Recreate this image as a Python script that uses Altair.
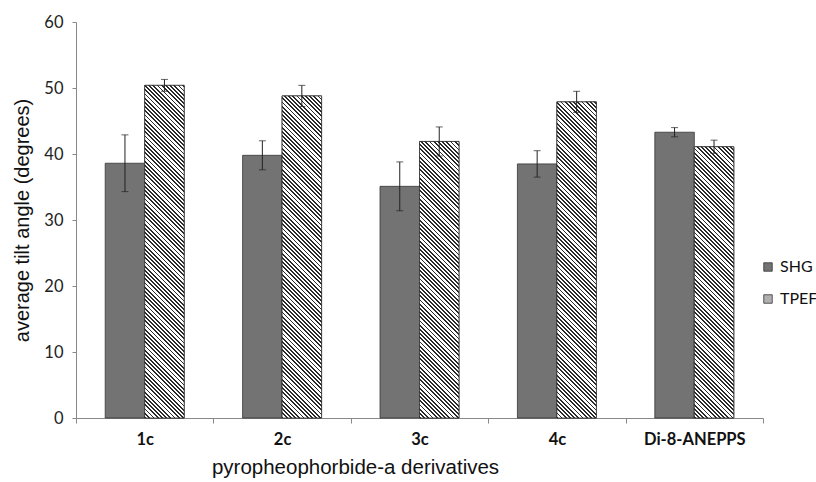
import altair as alt
import pandas as pd

categories = ["1c", "2c", "3c", "4c", "Di-8-ANEPPS"]
series = ["SHG", "TPEF"]
shg_values = [38.6, 39.8, 35.1, 38.5, 43.3]
shg_err = [4.3, 2.2, 3.7, 2.0, 0.7]
tpef_values = [50.4, 48.8, 41.9, 47.9, 41.1]
tpef_err = [0.9, 1.6, 2.2, 1.6, 1.0]
y_ticks = [0, 10, 20, 30, 40, 50, 60]

rows = []
for i, c in enumerate(categories):
    rows.append(dict(cat=c, series="SHG", value=shg_values[i], err=shg_err[i]))
    rows.append(dict(cat=c, series="TPEF", value=tpef_values[i], err=tpef_err[i]))
df = pd.DataFrame(rows)
df["lo"] = df["value"] - df["err"]
df["hi"] = df["value"] + df["err"]

W, H = 687, 396
OUTER = 0.74
STEP = W / len(categories)
BW = STEP / (2 + 2 * OUTER)
SHG_FILL = "#737373"


def hatch(w, h, period=4.2, dark=0.45, c1="#2a2a2a", c2="#ffffff"):
    S = w + h
    k = S / (w * w + h * h)
    stops = []
    n = int(S / period) + 2
    for i in range(n):
        a = min(1.0, i * period / S)
        b = min(1.0, (i * period + dark * period) / S)
        c = min(1.0, (i + 1) * period / S)
        stops += [
            {"offset": a, "color": c1},
            {"offset": b, "color": c1},
            {"offset": b, "color": c2},
            {"offset": c, "color": c2},
        ]
    return {
        "gradient": "linear",
        "x1": 0, "y1": 1,
        "x2": k * w, "y2": 1 - k * h,
        "stops": stops,
    }


def x_enc():
    return alt.X(
        "cat:N",
        scale=alt.Scale(domain=categories, paddingInner=0, paddingOuter=0),
        axis=alt.Axis(
            title="pyropheophorbide-a derivatives",
            titleFont="Liberation Sans", titleFontSize=20.5, titleFontWeight="normal",
            titleColor="#111", titleX=279, titleY=49, titleAlign="center",
            titleBaseline="middle",
            labelFont="Lato", labelFontSize=16.5, labelFontWeight="bold",
            labelColor="#111", labelAngle=0, labelPadding=8,
            tickBand="extent", tickSize=5, tickColor="#888", domainColor="#888",
            grid=False,
        ),
    )


def xo_enc():
    return alt.XOffset(
        "series:N",
        scale=alt.Scale(domain=series, paddingInner=0, paddingOuter=OUTER),
    )


def y_enc(field="value"):
    return alt.Y(
        f"{field}:Q",
        scale=alt.Scale(domain=[0, 60]),
        axis=alt.Axis(
            values=y_ticks, title="average tilt angle (degrees)",
            titleFont="Liberation Sans", titleFontSize=20, titleFontWeight="normal",
            titleColor="#111", titleX=-54, titleY=H / 2, titleAngle=-90,
            titleAlign="center", titleBaseline="middle",
            labelFont="Lato", labelFontSize=16.5, labelColor="#222", labelPadding=9,
            tickSize=4, tickColor="#888", domainColor="#888", grid=False,
        ),
    )


base = alt.Chart(df).mark_bar(stroke="#333", strokeWidth=0.8).encode(
    x=x_enc(), xOffset=xo_enc(), y=y_enc(),
    color=alt.Color(
        "series:N",
        scale=alt.Scale(domain=series, range=[SHG_FILL, "#b0b0b0"]),
        legend=alt.Legend(
            title=None, orient="none", legendX=684, legendY=237,
            symbolType="square", symbolSize=72, symbolStrokeColor="#333",
            symbolStrokeWidth=0.8, symbolOpacity=1, labelFont="Lato", labelFontSize=16,
            labelColor="#111", rowPadding=16, labelOffset=4,
        ),
    ),
)

layers = [base]
for c, v in zip(categories, tpef_values):
    sub = df[(df["cat"] == c) & (df["series"] == "TPEF")]
    layers.append(
        alt.Chart(sub).mark_bar(fill=hatch(BW, v * H / 60), stroke="#333", strokeWidth=0.8)
        .encode(x=x_enc(), xOffset=xo_enc(), y=y_enc())
    )

err_rule = alt.Chart(df).mark_rule(color="#222", strokeWidth=1).encode(
    x=x_enc(), xOffset=xo_enc(), y=y_enc("lo"), y2="hi:Q"
)
cap_hi = alt.Chart(df).mark_tick(color="#222", size=7, thickness=1).encode(
    x=x_enc(), xOffset=xo_enc(), y=y_enc("hi")
)
cap_lo = alt.Chart(df).mark_tick(color="#222", size=7, thickness=1).encode(
    x=x_enc(), xOffset=xo_enc(), y=y_enc("lo")
)
layers += [err_rule, cap_hi, cap_lo]

chart = alt.layer(*layers).properties(
    width=W, height=H,
    autosize=alt.AutoSizeParams(type="none"),
    padding={"left": 76, "top": 22, "right": 53, "bottom": 64},
    background="white",
).configure_view(stroke=None)

chart.save("out.html", embed_options={"renderer": "svg", "actions": False})
